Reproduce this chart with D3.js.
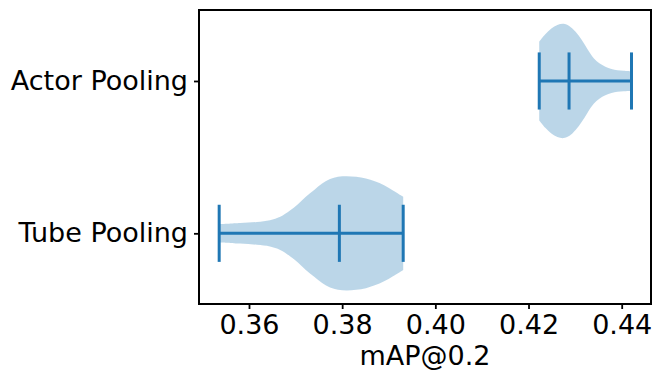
<!DOCTYPE html>
<html>
<head>
<script src="https://d3js.org/d3.v7.min.js"></script>
<style>
  body { margin: 0; background: white; }
  text { font-family: "DejaVu Sans", sans-serif; fill: #000; }
</style>
</head>
<body>
<div id="chart"></div>
<script>
// categories and their positions on the y axis
var categories = ["Tube Pooling", "Actor Pooling"];
var positions = [1, 2];

// kde profile: value -> relative density (max = 1)
var tubeValues  = [0.3536, 0.3581, 0.3617, 0.3645, 0.3667, 0.3688, 0.3705, 0.3722, 0.3740, 0.3757, 0.3774, 0.3791, 0.3810, 0.3830, 0.3851, 0.3870, 0.3890, 0.3909, 0.3931];
var tubeDensity = [0.16, 0.18, 0.20, 0.23, 0.29, 0.40, 0.51, 0.64, 0.76, 0.87, 0.95, 0.99, 1.00, 0.99, 0.96, 0.91, 0.84, 0.75, 0.64];
var actorValues  = [0.4223, 0.4236, 0.4249, 0.4262, 0.4275, 0.4288, 0.4301, 0.4314, 0.4327, 0.4340, 0.4352, 0.4365, 0.4378, 0.4391, 0.4404, 0.4421];
var actorDensity = [0.69, 0.82, 0.92, 0.98, 1.00, 0.96, 0.86, 0.72, 0.55, 0.40, 0.31, 0.25, 0.21, 0.19, 0.18, 0.17];

// min / median / max
var mins = [0.3536, 0.4223];
var medians = [0.3794, 0.4287];
var maxs = [0.3931, 0.4421];

var xTicks = [0.36, 0.38, 0.40, 0.42, 0.44];

var W = 652, H = 371;
var margin = {top: 10, right: 1, bottom: 67, left: 199};
var width = W - margin.left - margin.right,
    height = H - margin.top - margin.bottom;

var halfWidth = 0.375;   // widths=0.75
var capHalf = 0.1875;
var blue = "#1f77b4";

var svg = d3.select("#chart").append("svg")
    .attr("width", W).attr("height", H);
var g = svg.append("g")
    .attr("transform", "translate(" + margin.left + "," + margin.top + ")");

var x = d3.scaleLinear().domain([0.34927, 0.44629]).range([0, width]);
var y = d3.scaleLinear().domain([0.536, 2.466]).range([height, 0]);

var violins = [
  {pos: positions[0], vals: tubeValues, dens: tubeDensity},
  {pos: positions[1], vals: actorValues, dens: actorDensity}
];

var area = d3.area()
    .curve(d3.curveCatmullRom.alpha(0.5))
    .x(function(d) { return x(d.v); })
    .y0(function(d) { return y(d.pos - d.d * halfWidth); })
    .y1(function(d) { return y(d.pos + d.d * halfWidth); });

violins.forEach(function(vl) {
  var pts = vl.vals.map(function(v, i) { return {v: v, d: vl.dens[i], pos: vl.pos}; });
  g.append("path").datum(pts)
    .attr("d", area)
    .attr("fill", blue)
    .attr("fill-opacity", 0.3);
});

// bars and caps
positions.forEach(function(p, i) {
  g.append("line")
    .attr("x1", x(mins[i])).attr("x2", x(maxs[i]))
    .attr("y1", y(p)).attr("y2", y(p))
    .attr("stroke", blue).attr("stroke-width", 3);
  [mins[i], medians[i], maxs[i]].forEach(function(v) {
    g.append("line")
      .attr("x1", x(v)).attr("x2", x(v))
      .attr("y1", y(p - capHalf)).attr("y2", y(p + capHalf))
      .attr("stroke", blue).attr("stroke-width", 3);
  });
});

// axes
var xAxis = g.append("g")
    .attr("transform", "translate(0," + height + ")")
    .call(d3.axisBottom(x).tickValues(xTicks).tickFormat(d3.format(".2f")).tickSize(5).tickPadding(6));
var yAxis = g.append("g")
    .call(d3.axisLeft(y).tickValues(positions).tickFormat(function(d, i) { return categories[i]; }).tickSize(5).tickPadding(6));

[xAxis, yAxis].forEach(function(a) {
  a.select(".domain").remove();
  a.selectAll(".tick line").attr("stroke", "#000").attr("stroke-width", 1.8);
  a.selectAll(".tick text").style("font-size", "27px").style("font-family", "DejaVu Sans");
});

// frame
g.append("rect")
  .attr("width", width).attr("height", height)
  .attr("fill", "none").attr("stroke", "#000").attr("stroke-width", 2);

svg.append("text")
  .attr("x", margin.left + width / 2).attr("y", 365)
  .attr("text-anchor", "middle")
  .style("font-size", "27px")
  .text("mAP@0.2");
</script>
</body>
</html>
